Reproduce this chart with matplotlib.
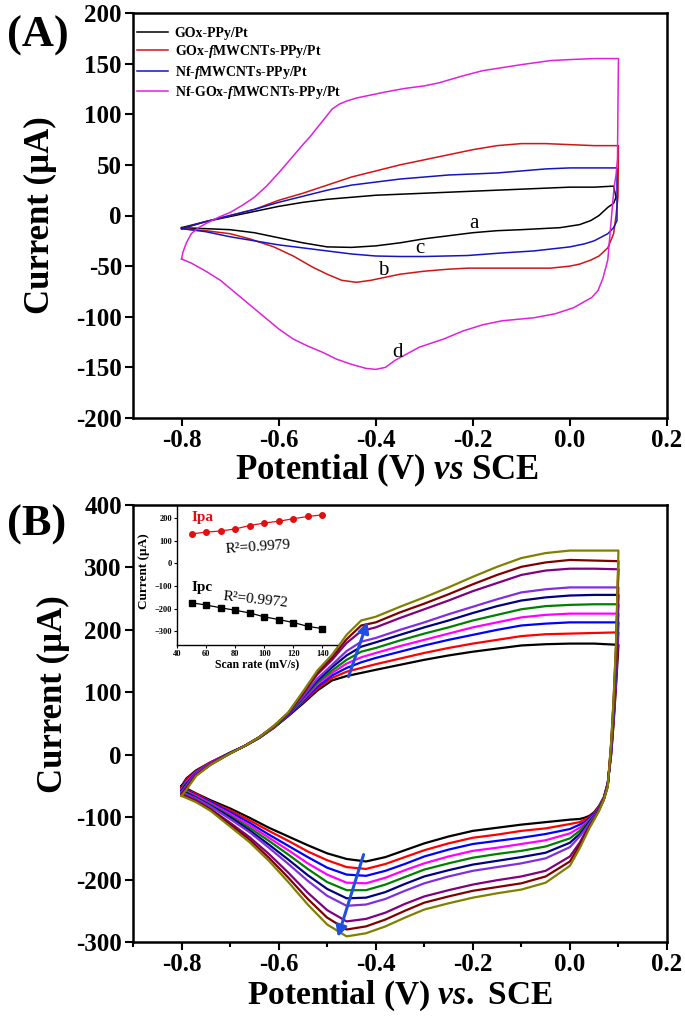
import numpy as np
import matplotlib
matplotlib.use('Agg')
import matplotlib.pyplot as plt

plt.rcParams['font.family'] = ['Liberation Serif', 'DejaVu Serif']
plt.rcParams['mathtext.fontset'] = 'custom'
plt.rcParams['mathtext.rm'] = 'Liberation Serif:bold'
plt.rcParams['mathtext.bf'] = 'Liberation Serif:bold'
plt.rcParams['mathtext.it'] = 'Liberation Serif:italic:bold'

# ---------------- Panel A: CVs of the four electrodes ----------------
# forward (anodic) and reverse (cathodic) branches, potential in V, current in uA
a_fwd_E = [-0.80, -0.75, -0.70, -0.65, -0.60, -0.55, -0.50, -0.45, -0.40, -0.35,
           -0.30, -0.25, -0.20, -0.15, -0.10, -0.05, 0.00, 0.05, 0.09]
a_fwd_I = [-12, -6, -1, 4, 9, 13, 16, 18, 20, 21, 22, 23, 24, 25, 26, 27, 28, 28, 29]
a_rev_E = [0.09, 0.095, 0.09, 0.078, 0.06, 0.043, 0.02, -0.02, -0.10, -0.15, -0.20,
           -0.25, -0.30, -0.35, -0.40, -0.45, -0.50, -0.55, -0.60, -0.65, -0.70, -0.75, -0.80]
a_rev_I = [29, 18, 12, 8, 0, -5, -9, -12, -14, -15, -17, -20, -23, -27, -30, -31.5, -31,
           -27, -22, -17, -14, -13, -12]

b_fwd_E = [-0.80, -0.75, -0.70, -0.65, -0.60, -0.55, -0.50, -0.45, -0.40, -0.35,
           -0.30, -0.25, -0.20, -0.15, -0.10, -0.05, 0.00, 0.05, 0.10]
b_fwd_I = [-13, -6, 0, 6, 15, 22, 30, 38, 44, 50, 55, 60, 65, 69, 71, 71, 70, 69, 69]
b_rev_E = [0.10, 0.099, 0.095, 0.09, 0.078, 0.06, 0.043, 0.02, 0.00, -0.04, -0.10,
           -0.15, -0.21, -0.25, -0.30, -0.35, -0.38, -0.41, -0.44, -0.47, -0.50, -0.53,
           -0.57, -0.61, -0.66, -0.70, -0.75, -0.80]
b_rev_I = [69, 18, 0, -18, -32, -40, -44, -48, -50, -52, -52, -52, -52, -53, -55, -58,
           -61, -64, -66, -64, -58, -51, -40, -31, -23, -18, -15, -13]

c_fwd_E = [-0.80, -0.75, -0.70, -0.65, -0.60, -0.55, -0.50, -0.45, -0.40, -0.35,
           -0.30, -0.25, -0.20, -0.15, -0.10, -0.05, 0.00, 0.05, 0.097]
c_fwd_I = [-13, -6, 0, 6, 13, 19, 25, 30, 33, 36, 38, 40, 41, 42, 44, 46, 47, 47, 47]
c_rev_E = [0.097, 0.097, 0.09, 0.078, 0.05, 0.03, 0.00, -0.074, -0.14, -0.21, -0.30,
           -0.35, -0.40, -0.45, -0.50, -0.55, -0.60, -0.65, -0.70, -0.75, -0.80]
c_rev_I = [47, -5, -12, -18, -25, -28, -31, -35, -37, -39.5, -40.5, -40.5, -40, -38,
           -35, -32, -29, -25, -21, -16, -13]

d_fwd_E = [-0.80, -0.797, -0.79, -0.78, -0.765, -0.75, -0.725, -0.70, -0.675, -0.65,
           -0.625, -0.60, -0.575, -0.55, -0.535, -0.52, -0.505, -0.49, -0.475, -0.46,
           -0.44, -0.42, -0.40, -0.38, -0.34, -0.30, -0.27, -0.22, -0.18, -0.14, -0.10,
           -0.04, 0.00, 0.05, 0.10]
d_fwd_I = [-43, -36, -27, -18, -12, -8, -2, 3, 10, 18, 29, 42, 56, 70, 78, 87, 96, 105,
           110, 113, 116, 118, 120, 122, 125.5, 128, 131, 138, 143, 146, 149, 153, 154,
           155, 155]
d_rev_E = [0.10, 0.099, 0.098, 0.095, 0.091, 0.085, 0.078, 0.068, 0.058, 0.045, 0.03,
           0.008, -0.03, -0.074, -0.14, -0.18, -0.22, -0.26, -0.31, -0.36, -0.38, -0.40,
           -0.42, -0.45, -0.48, -0.51, -0.54, -0.57, -0.60, -0.625, -0.65, -0.675, -0.70,
           -0.72, -0.75, -0.78, -0.80]
d_rev_I = [155, 110, 56, 40, 28, -5, -44, -62, -74, -81, -85, -91, -97, -101, -104, -108,
           -114, -122, -130, -143, -150, -152, -151, -147, -142, -135, -129, -122, -112,
           -102, -92, -82, -72, -64, -55, -47, -43]

legend_a = ['GOx-PPy/Pt', r'GOx-$f$MWCNTs-PPy/Pt', r'Nf-$f$MWCNTs-PPy/Pt',
            r'Nf-GOx-$f$MWCNTs-PPy/Pt']
colors_a = ['#000000', '#d01515', '#1515c0', '#dd22dd']

# ---------------- Panel B: scan rate series ----------------
scan_rates = [50, 60, 70, 80, 90, 100, 110, 120, 130, 140]
colors_b = ['#000000', '#ff0000', '#0000ff', '#ff00ff', '#008000', '#000080',
            '#7f2fe0', '#800080', '#800000', '#808000']

fwd_E = [-0.80, -0.79, -0.77, -0.74, -0.70, -0.67, -0.64, -0.61, -0.58, -0.55, -0.52,
         -0.49, -0.46, -0.43, -0.40, -0.35, -0.30, -0.25, -0.20, -0.15, -0.10, -0.05,
         0.00, 0.05, 0.10]
rev_E = [0.10, 0.095, 0.09, 0.085, 0.078, 0.07, 0.06, 0.05, 0.04, 0.03, 0.02, 0.00,
         -0.05, -0.10, -0.15, -0.20, -0.25, -0.30, -0.34, -0.38, -0.42, -0.46, -0.50,
         -0.54, -0.58, -0.62, -0.66, -0.70, -0.74, -0.77, -0.80]

fwd_50 = [-50, -38, -25, -12, 3, 14, 27, 43, 62, 82, 103, 119, 126, 131, 136, 144, 152,
          159, 165, 170, 175, 177, 178, 178, 176]
fwd_60 = [-52, -40, -26, -12, 3, 14, 27, 43, 63, 84, 106, 123, 133, 139, 145, 154, 163,
          171, 178, 184, 190, 193, 194, 195, 196]
fwd_70 = [-53, -42, -27, -13, 3, 14, 27, 44, 63, 86, 109, 127, 139, 148, 155, 165, 175,
          184, 192, 200, 207, 210, 212, 212, 212]
fwd_80 = [-55, -43, -28, -13, 3, 14, 27, 44, 64, 88, 113, 131, 146, 156, 163, 174, 184,
          194, 204, 212, 220, 224, 226, 226, 226]
fwd_90 = [-56, -45, -29, -14, 3, 14, 27, 44, 64, 90, 116, 135, 152, 165, 171, 183, 194,
          204, 215, 224, 233, 238, 240, 241, 241]
fwd_100 = [-58, -47, -30, -14, 3, 14, 28, 45, 65, 92, 119, 140, 159, 173, 180, 192, 204,
           215, 227, 238, 247, 252, 255, 256, 256]
fwd_110 = [-60, -49, -30, -14, 2, 14, 28, 45, 66, 93, 122, 144, 166, 181, 187, 200, 212,
           225, 237, 249, 260, 265, 268, 268, 268]
fwd_120 = [-63, -52, -32, -15, 2, 14, 28, 45, 67, 97, 129, 152, 179, 198, 204, 219, 233,
           247, 262, 275, 288, 295, 298, 298, 297]
fwd_130 = [-64, -54, -33, -16, 2, 14, 28, 46, 67, 99, 132, 156, 185, 207, 212, 228, 242,
           257, 273, 288, 301, 308, 312, 311, 310]
fwd_140 = [-66, -56, -34, -16, 2, 14, 28, 46, 68, 101, 135, 160, 192, 215, 221, 237, 252,
           268, 285, 301, 315, 323, 327, 327, 327]

rev_50 = [176, 110, 50, 0, -45, -68, -82, -92, -98, -101, -103, -104, -108, -112, -117,
          -122, -131, -142, -153, -164, -171, -167, -158, -145, -131, -117, -101, -86,
          -73, -62, -50]
rev_60 = [196, 117, 54, 2, -46, -68, -83, -93, -100, -104, -108, -111, -118, -122, -128,
          -133, -142, -153, -164, -175, -183, -180, -169, -155, -138, -122, -105, -89,
          -75, -63, -52]
rev_70 = [212, 124, 58, 4, -46, -69, -84, -94, -102, -108, -112, -119, -127, -133, -138,
          -143, -152, -163, -175, -186, -194, -192, -181, -164, -146, -128, -109, -92,
          -76, -65, -53]
rev_80 = [226, 131, 62, 6, -47, -69, -84, -96, -104, -111, -117, -126, -137, -143, -149,
          -154, -163, -174, -185, -197, -206, -205, -192, -174, -153, -133, -113, -95,
          -78, -66, -55]
rev_90 = [241, 138, 66, 8, -47, -70, -85, -97, -106, -114, -122, -134, -147, -154, -159,
          -165, -174, -184, -196, -208, -217, -217, -204, -183, -160, -138, -117, -98,
          -80, -68, -56]
rev_100 = [256, 145, 70, 10, -48, -70, -86, -98, -108, -118, -127, -141, -157, -164,
           -170, -176, -185, -195, -207, -220, -229, -230, -215, -193, -168, -144, -121,
           -100, -82, -69, -58]
rev_110 = [268, 152, 74, 12, -49, -70, -87, -99, -110, -121, -131, -148, -166, -174,
           -180, -186, -195, -206, -218, -231, -240, -242, -226, -202, -175, -149, -124,
           -103, -83, -70, -60]
rev_120 = [297, 166, 82, 16, -50, -71, -88, -102, -114, -127, -141, -163, -186, -195,
           -201, -208, -217, -227, -239, -253, -263, -267, -249, -221, -189, -159, -132,
           -109, -87, -73, -63]
rev_130 = [310, 173, 86, 18, -50, -72, -89, -103, -116, -131, -145, -171, -195, -206,
           -212, -218, -227, -237, -250, -264, -275, -280, -261, -231, -197, -165, -136,
           -112, -88, -75, -64]
rev_140 = [327, 180, 90, 20, -51, -72, -90, -104, -118, -134, -150, -178, -205, -216,
           -222, -229, -238, -248, -261, -275, -286, -291, -272, -240, -204, -170, -140,
           -115, -90, -76, -66]

fwd_b = [fwd_50, fwd_60, fwd_70, fwd_80, fwd_90, fwd_100, fwd_110, fwd_120, fwd_130, fwd_140]
rev_b = [rev_50, rev_60, rev_70, rev_80, rev_90, rev_100, rev_110, rev_120, rev_130, rev_140]

# inset: peak currents vs scan rate
inset_rate = [50, 60, 70, 80, 90, 100, 110, 120, 130, 140]
ipa = [129, 137, 142, 151, 166, 177, 185, 196, 206, 213]
ipc = [-174, -184, -196, -207, -219, -236, -248, -261, -278, -288]

W, H = 685, 1030
fig = plt.figure(figsize=(W / 100, H / 100), dpi=100)


def style_main(ax):
    for s in ax.spines.values():
        s.set_linewidth(1.8)
    ax.tick_params(which='major', direction='out', length=6, width=1.5,
                   labelsize=18, pad=2, top=False, right=False)
    ax.tick_params(which='minor', direction='out', length=3.5, width=1.5,
                   top=False, right=False)
    for lab in ax.get_xticklabels() + ax.get_yticklabels():
        lab.set_fontweight('bold')


# ---- (A)
axA = fig.add_axes([133 / W, 1 - 418 / H, 534 / W, 405 / H])
curves_a = [(a_fwd_E, a_fwd_I, a_rev_E, a_rev_I), (b_fwd_E, b_fwd_I, b_rev_E, b_rev_I),
            (c_fwd_E, c_fwd_I, c_rev_E, c_rev_I), (d_fwd_E, d_fwd_I, d_rev_E, d_rev_I)]
for (fe, fi, re, ri), col, lab in zip(curves_a, colors_a, legend_a):
    axA.plot(fe + re, fi + ri, color=col, lw=1.1, label=lab)
axA.set_xlim(-0.9, 0.2)
axA.set_ylim(-200, 200)
axA.set_xticks([-0.8, -0.6, -0.4, -0.2, 0.0, 0.2])
axA.set_xticklabels(['-0.8', '-0.6', '-0.4', '-0.2', '0.0', '0.2'])
axA.set_yticks(np.arange(-200, 201, 50))
axA.set_yticklabels([str(v) for v in range(-200, 201, 50)])
style_main(axA)
axA.set_xlabel(r'Potential (V) $vs$ SCE', fontsize=25, fontweight='bold')
axA.xaxis.set_label_coords((387 - 133) / 534, -(470 - 418) / 405)
axA.xaxis.label.set_va('center')
axA.set_ylabel('Current (µA)', fontsize=25, fontweight='bold')
axA.yaxis.set_label_coords((57 - 133) / 534, 0.5)
leg = axA.legend(loc='upper left', bbox_to_anchor=(0.0, 0.976), frameon=False,
                 prop={'size': 10, 'weight': 'bold'}, handlelength=2.2,
                 labelspacing=0.25, borderaxespad=0.1, borderpad=0.2, handletextpad=0.5)
for t, x, y in [('a', -0.198, -8), ('b', -0.385, -54), ('c', -0.31, -33), ('d', -0.355, -135)]:
    axA.text(x, y, t, fontsize=15, ha='center', va='center')
fig.text(7 / W, 1 - 36 / H, '(A)', fontsize=32, fontweight='bold', va='center', ha='left')

# ---- (B)
axB = fig.add_axes([133 / W, 1 - 942 / H, 534 / W, 437 / H])
for fi, ri, col in zip(fwd_b, rev_b, colors_b):
    axB.plot(fwd_E + rev_E, fi + ri, color=col, lw=1.6)
axB.set_xlim(-0.9, 0.2)
axB.set_ylim(-300, 400)
axB.set_xticks([-0.8, -0.6, -0.4, -0.2, 0.0, 0.2])
axB.set_xticklabels(['-0.8', '-0.6', '-0.4', '-0.2', '0.0', '0.2'])
axB.set_xticks(np.arange(-0.9, 0.21, 0.1), minor=True)
axB.set_yticks(np.arange(-300, 401, 100))
axB.set_yticklabels([str(v) for v in range(-300, 401, 100)])
style_main(axB)
axB.set_xlabel(r'Potential (V) $vs.$ SCE', fontsize=24, fontweight='bold', labelpad=2)
axB.set_ylabel('Current (µA)', fontsize=25, fontweight='bold')
axB.yaxis.set_label_coords((70 - 133) / 534, (942 - 694) / 437)
arrow = dict(arrowstyle='-|>', color='#1f4fe0', lw=2.2, mutation_scale=16,
             shrinkA=0, shrinkB=0)
axB.annotate('', xy=(-0.417, 213), xytext=(-0.456, 125), arrowprops=arrow)
axB.annotate('', xy=(-0.478, -292), xytext=(-0.425, -160), arrowprops=arrow)
fig.text(7 / W, 1 - 525 / H, '(B)', fontsize=32, fontweight='bold', va='center', ha='left')

# ---- inset
axI = fig.add_axes([177 / W, 1 - 645 / H, 160 / W, 139 / H])
axI.patch.set_alpha(0)
axI.plot(inset_rate, ipa, '-o', color='#e01010', lw=0.9, ms=4)
axI.plot(inset_rate, ipc, '-s', color='#000000', lw=0.9, ms=4)
axI.set_xlim(40, 150)
axI.set_ylim(-360, 252)
axI.set_xticks([40, 60, 80, 100, 120, 140])
axI.set_yticks([-300, -200, -100, 0, 100, 200])
axI.spines['top'].set_visible(False)
axI.spines['right'].set_visible(False)
for s in ('left', 'bottom'):
    axI.spines[s].set_linewidth(1.0)
axI.tick_params(direction='out', length=2.5, width=0.8, labelsize=6, pad=1)
for lab in axI.get_xticklabels() + axI.get_yticklabels():
    lab.set_fontweight('bold')
axI.set_xlabel('Scan rate (mV/s)', fontsize=8.5, fontweight='bold', labelpad=1)
axI.set_ylabel('Current (µA)', fontsize=9.5, fontweight='bold')
axI.yaxis.set_label_coords((150 - 177) / 160, (645 - 571) / 139)
axI.text(50, 200, 'Ipa', color='#e01010', fontsize=11, fontweight='bold', va='center')
axI.text(50, -105, 'Ipc', color='black', fontsize=11, fontweight='bold', va='center')
axI.text(96, 72, 'R²=0.9979', fontsize=11, ha='center', va='center', rotation=4)
axI.text(94, -163, 'R²=0.9972', fontsize=11, ha='center', va='center', rotation=-6)

fig.savefig('out.png', dpi=100)
